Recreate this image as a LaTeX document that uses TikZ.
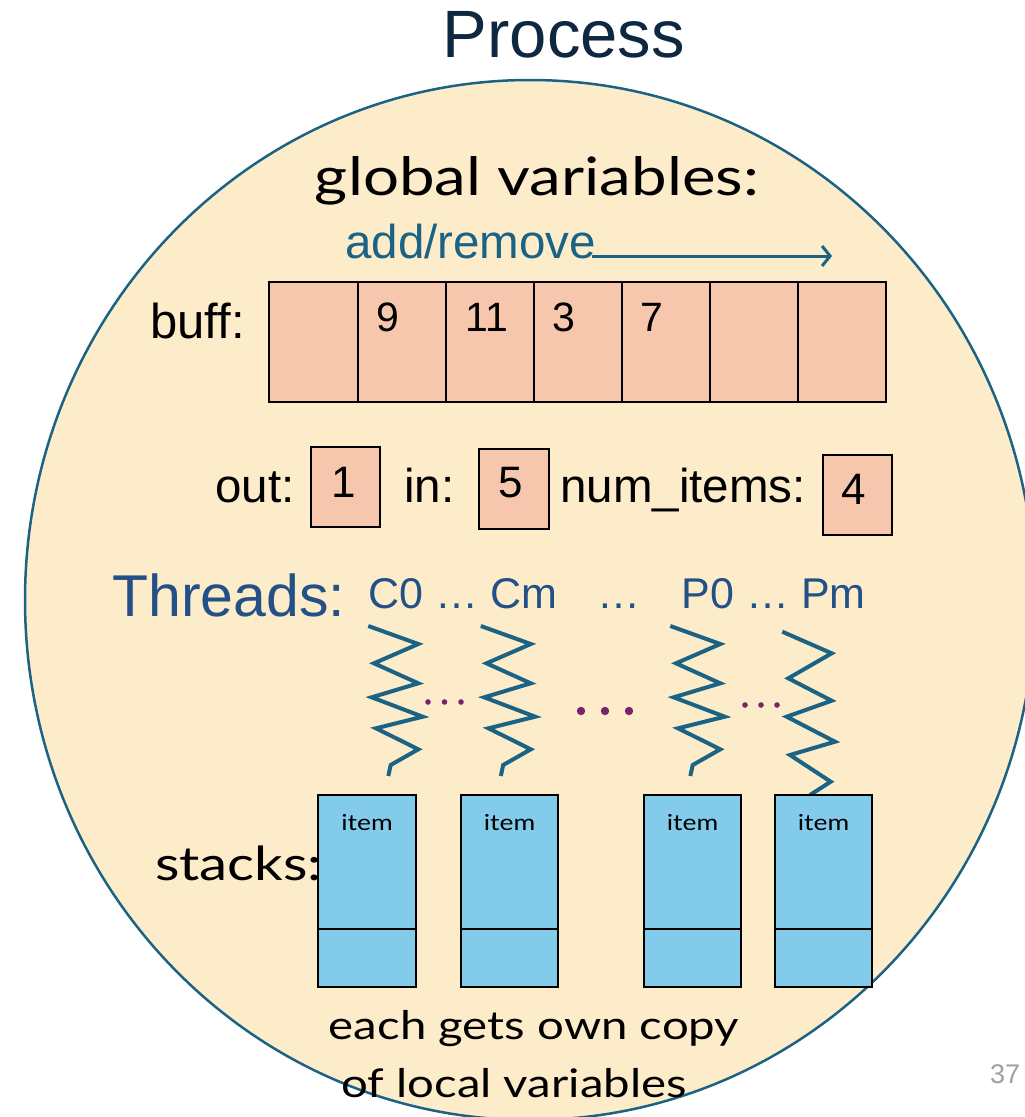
\documentclass[tikz,border=0pt]{standalone}
\usepackage{fontspec}
\usetikzlibrary{arrows.meta}
\newfontfamily\arialf{Liberation Sans}
\newfontfamily\aptosf[FakeStretch=1.2]{Lato}
\definecolor{cream}{RGB}{253,236,201}
\definecolor{procteal}{RGB}{27,99,133}
\definecolor{titlec}{RGB}{14,40,65}
\definecolor{thrc}{RGB}{35,80,135}
\definecolor{salmon}{RGB}{246,199,173}
\definecolor{stackc}{RGB}{131,203,235}
\definecolor{dotc}{RGB}{120,35,110}
\definecolor{pgc}{RGB}{160,160,160}
\newcommand{\fsz}[1]{\fontsize{#1}{#1}\selectfont}
\begin{document}
\begin{tikzpicture}[x=1pt,y=-1pt,
  lbl/.style={inner sep=0pt,anchor=base west},
  ctr/.style={inner sep=0pt,anchor=base},
  cellbox/.style={draw=black,line width=2.5pt,fill=salmon},
  stackbox/.style={draw=black,line width=2.5pt,fill=stackc},
  zig/.style={draw=procteal,line width=4pt},
  arr/.style={draw=procteal,line width=3pt,-{Straight Barb[length=8pt,width=20pt,line width=3pt]}},
  dotsmall/.style={fill=dotc},
]
\useasboundingbox (0,0) rectangle (1025,1117);
\begin{scope}
\clip (0,0) rectangle (1025,1117);
\draw[fill=cream,draw=procteal,line width=2.5pt] (530,600) ellipse [x radius=505,y radius=520];
\end{scope}

% title
\node[ctr,font=\arialf\fsz{67},text=titlec] (title) at (564,57) {Process};

% global variables
\node[ctr,font=\aptosf\fsz{53}] (glob) at (537,195) {global variables:};
\node[lbl,font=\arialf\fsz{47.5},text=procteal] (addrm) at (345,258) {add/remove};
\coordinate (arrs) at (592,256);
\coordinate (arre) at (832,256);
\draw[arr] (arrs) -- (arre);

% buff
\node[lbl,font=\arialf\fsz{49}] (bufflbl) at (150,338) {buff:};
\foreach \a/\b in {269/358,358/446,446/534,534/622,622/710,710/798,798/886}{
  \draw[cellbox] (\a,282) rectangle (\b,402);
}
\node[ctr,font=\arialf\fsz{41}] (b1) at (388,331) {9};
\node[ctr,font=\arialf\fsz{41}] (b2) at (487,331) {11};
\node[ctr,font=\arialf\fsz{41}] (b3) at (564,331) {3};
\node[ctr,font=\arialf\fsz{41}] (b4) at (652,331) {7};

% out / in / num_items
\node[lbl,font=\arialf\fsz{47.5}] (outlbl) at (215,502) {out:};
\draw[cellbox] (311,447) rectangle (380,527);
\node[ctr,font=\arialf\fsz{44}] (outv) at (344,497) {1};
\node[lbl,font=\arialf\fsz{47.5}] (inlbl) at (404,502) {in:};
\draw[cellbox] (479,449) rectangle (549,529);
\node[ctr,font=\arialf\fsz{44}] (inv) at (511,497) {5};
\node[lbl,font=\arialf\fsz{47.5}] (numlbl) at (560,502) {num\_items:};
\draw[cellbox] (823,455) rectangle (892,535);
\node[ctr,font=\arialf\fsz{44}] (numv) at (854,504) {4};

% threads
\node[lbl,font=\arialf\fsz{59},text=thrc] (thr) at (112,616) {Threads:};
\node[lbl,font=\arialf\fsz{43},text=thrc] (cth) at (368,608) {C0 … Cm};
\node[lbl,font=\arialf\fsz{43},text=thrc] (mid) at (597,608) {…};
\node[inner sep=0pt,anchor=base east,font=\arialf\fsz{43},text=thrc] (pth) at (866,608) {P0 … Pm};

% zigzags
\foreach \dx in {0,112.5,302}{
\begin{scope}[xshift=\dx pt]
\draw[zig] (368.3,626) -- (418.3,644) -- (374,663.3) -- (418.3,683.3) -- (371.7,697.3) -- (422.7,716.7) -- (376,728.3) -- (418.3,749.3) -- (390.7,765) -- (388.3,776);
\end{scope}
}
\draw[zig] (782.3,631.7) -- (831.7,653.3) -- (788.3,678.3) -- (831.7,700.7) -- (786.7,716.7) -- (835,741.7) -- (790,755) -- (830.7,781.7) -- (810,795);

% dots
\foreach \x in {428,444.5,461}{\fill[dotsmall] (\x,702) circle[radius=2.8];}
\foreach \x in {581,605,629}{\fill[dotsmall] (\x,711) circle[radius=4.2];}
\foreach \x in {745,761,777}{\fill[dotsmall] (\x,705) circle[radius=2.8];}

% stacks
\node[lbl,font=\aptosf\fsz{47}] (stk) at (155,880) {stacks:};
\foreach \a/\b/\n in {318/416/s1,461/558/s2,644/741/s3,775/872/s4}{
  \draw[stackbox] (\a,795) rectangle (\b,987);
  \draw[black,line width=2.5pt] (\a,929) -- (\b,929);
  \node[ctr,font=\aptosf\fsz{22}] (\n) at ({(\a+\b)/2},830) {item};
}

% bottom text
\node[ctr,font=\aptosf\fsz{39.5}] (each1) at (534,1039) {each gets own copy};
\node[ctr,font=\aptosf\fsz{39.5}] (each2) at (514,1097) {of local variables};
\node[lbl,font=\arialf\fsz{27},text=pgc] (pg) at (990,1083) {37};
\end{tikzpicture}
\end{document}
